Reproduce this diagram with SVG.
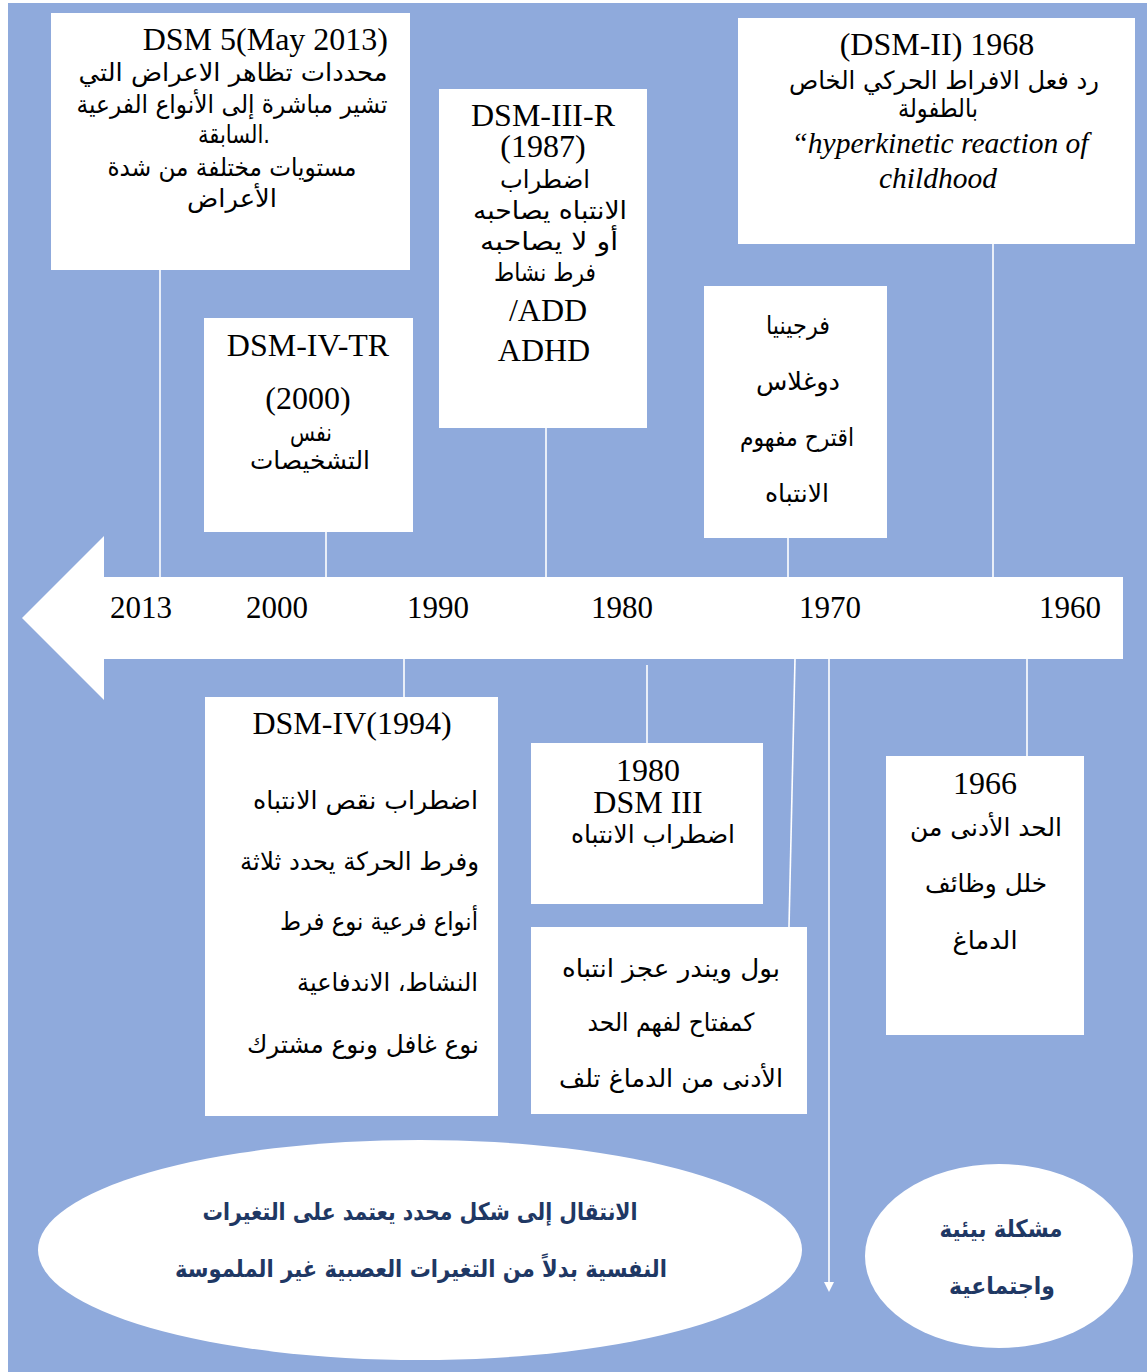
<svg xmlns="http://www.w3.org/2000/svg" width="1147" height="1372" viewBox="0 0 1147 1372">
<defs>
<style>
.bg{fill:#8FAADC}
.box{fill:#FFFFFF}
.conn{stroke:#FFFFFF;stroke-width:1.6;fill:none}
.lat{font-family:'Liberation Serif','Times New Roman',serif;font-size:32px;fill:#000}
.it{font-family:'Liberation Serif','Times New Roman',serif;font-size:29.5px;font-style:italic;fill:#000}
.ar{font-family:'DejaVu Sans','Liberation Sans',sans-serif;font-size:25px;fill:#000}
.arb{font-family:'DejaVu Sans','Liberation Sans',sans-serif;font-size:24px;font-weight:bold;fill:#1F3864}
.yr{font-family:'Liberation Serif','Times New Roman',serif;font-size:31px;fill:#000}
</style>
<marker id="ah" markerWidth="10" markerHeight="10" refX="8" refY="5" orient="auto" markerUnits="userSpaceOnUse" viewBox="0 0 10 10">
<path d="M0,0 L10,5 L0,10 z" fill="#FFFFFF"/>
</marker>
</defs>
<rect x="0" y="0" width="1147" height="1372" fill="#FFFFFF"/>
<rect class="bg" x="8" y="3" width="1139" height="1369"/>

<g id="connectors">
<line class="conn" x1="160" y1="270" x2="160" y2="577"/>
<line class="conn" x1="326" y1="532" x2="326" y2="577"/>
<line class="conn" x1="546" y1="428" x2="546" y2="577"/>
<line class="conn" x1="788" y1="538" x2="788" y2="577"/>
<line class="conn" x1="993" y1="244" x2="993" y2="577"/>
<line class="conn" x1="404" y1="659" x2="404" y2="697"/>
<line class="conn" x1="647" y1="665" x2="647" y2="743"/>
<line class="conn" x1="795" y1="659" x2="789" y2="927"/>
<line class="conn" x1="1027" y1="659" x2="1027" y2="756"/>
<line class="conn" x1="829" y1="659" x2="829" y2="1290" marker-end="url(#ah)"/>
</g>

<g id="timeline">
<path class="box" d="M22,618 L104,536 L104,577 L1123,577 L1123,659 L104,659 L104,700 Z"/>
<text class="yr" x="141" y="618" text-anchor="middle">2013</text>
<text class="yr" x="277" y="618" text-anchor="middle">2000</text>
<text class="yr" x="438" y="618" text-anchor="middle">1990</text>
<text class="yr" x="622" y="618" text-anchor="middle">1980</text>
<text class="yr" x="830" y="618" text-anchor="middle">1970</text>
<text class="yr" x="1070" y="618" text-anchor="middle">1960</text>
</g>

<g id="dsm5">
<rect class="box" x="51" y="13" width="359" height="257"/>
<text class="lat" x="388" y="50" text-anchor="end">DSM 5(May 2013)</text>
<text class="ar" x="233" y="81" text-anchor="middle" textLength="309" lengthAdjust="spacingAndGlyphs">محددات تظاهر الاعراض التي</text>
<text class="ar" x="232" y="113" text-anchor="middle" textLength="311" lengthAdjust="spacingAndGlyphs">تشير مباشرة إلى الأنواع الفرعية</text>
<text class="ar" x="234" y="143" text-anchor="middle" textLength="72" lengthAdjust="spacingAndGlyphs">السابقة.</text>
<text class="ar" x="232" y="176" text-anchor="middle" textLength="249" lengthAdjust="spacingAndGlyphs">مستويات مختلفة من شدة</text>
<text class="ar" x="232" y="207" text-anchor="middle" textLength="90" lengthAdjust="spacingAndGlyphs">الأعراض</text>
</g>

<g id="dsm3r">
<rect class="box" x="439" y="89" width="208" height="339"/>
<text class="lat" x="543" y="126" text-anchor="middle">DSM-III-R</text>
<text class="lat" x="543" y="157" text-anchor="middle">(1987)</text>
<text class="ar" x="545" y="188" text-anchor="middle" textLength="90" lengthAdjust="spacingAndGlyphs">اضطراب</text>
<text class="ar" x="550" y="219" text-anchor="middle" textLength="154" lengthAdjust="spacingAndGlyphs">الانتباه يصاحبه</text>
<text class="ar" x="549" y="250" text-anchor="middle" textLength="138" lengthAdjust="spacingAndGlyphs">أو لا يصاحبه</text>
<text class="ar" x="545" y="281" text-anchor="middle" textLength="102" lengthAdjust="spacingAndGlyphs">فرط نشاط</text>
<text class="lat" x="548" y="321" text-anchor="middle">/ADD</text>
<text class="lat" x="544" y="361" text-anchor="middle">ADHD</text>
</g>

<g id="dsm2">
<rect class="box" x="738" y="18" width="397" height="226"/>
<text class="lat" x="937" y="55" text-anchor="middle">(DSM-II) 1968</text>
<text class="ar" x="944" y="89" text-anchor="middle" textLength="310" lengthAdjust="spacingAndGlyphs">رد فعل الافراط الحركي الخاص</text>
<text class="ar" x="938" y="117" text-anchor="middle" textLength="80" lengthAdjust="spacingAndGlyphs">بالطفولة</text>
<text class="it" x="940" y="153" text-anchor="middle">“hyperkinetic reaction of</text>
<text class="it" x="938" y="188" text-anchor="middle">childhood</text>
</g>

<g id="virginia">
<rect class="box" x="704" y="286" width="183" height="252"/>
<text class="ar" x="798" y="334" text-anchor="middle" textLength="64" lengthAdjust="spacingAndGlyphs">فرجينيا</text>
<text class="ar" x="798" y="390" text-anchor="middle" textLength="84" lengthAdjust="spacingAndGlyphs">دوغلاس</text>
<text class="ar" x="797" y="446" text-anchor="middle" textLength="114" lengthAdjust="spacingAndGlyphs">اقترح مفهوم</text>
<text class="ar" x="797" y="502" text-anchor="middle" textLength="64" lengthAdjust="spacingAndGlyphs">الانتباه</text>
</g>

<g id="dsm4tr">
<rect class="box" x="204" y="318" width="209" height="214"/>
<text class="lat" x="308" y="356" text-anchor="middle">DSM-IV-TR</text>
<text class="lat" x="308" y="409" text-anchor="middle">(2000)</text>
<text class="ar" x="311" y="441" text-anchor="middle" textLength="42" lengthAdjust="spacingAndGlyphs">نفس</text>
<text class="ar" x="310" y="469" text-anchor="middle" textLength="120" lengthAdjust="spacingAndGlyphs">التشخيصات</text>
</g>

<g id="dsm4">
<rect class="box" x="205" y="697" width="293" height="419"/>
<text class="lat" x="352" y="734" text-anchor="middle">DSM-IV(1994)</text>
<text class="ar" x="478" y="809" text-anchor="end" textLength="225" lengthAdjust="spacingAndGlyphs">اضطراب نقص الانتباه</text>
<text class="ar" x="479" y="870" text-anchor="end" textLength="239" lengthAdjust="spacingAndGlyphs">وفرط الحركة يحدد ثلاثة</text>
<text class="ar" x="478" y="930" text-anchor="end" textLength="198" lengthAdjust="spacingAndGlyphs">أنواع فرعية نوع فرط</text>
<text class="ar" x="478" y="991" text-anchor="end" textLength="181" lengthAdjust="spacingAndGlyphs">النشاط، الاندفاعية</text>
<text class="ar" x="479" y="1053" text-anchor="end" textLength="232" lengthAdjust="spacingAndGlyphs">نوع غافل ونوع  مشترك</text>
</g>

<g id="dsm3">
<rect class="box" x="531" y="743" width="232" height="161"/>
<text class="lat" x="648" y="781" text-anchor="middle">1980</text>
<text class="lat" x="648" y="813" text-anchor="middle">DSM III</text>
<text class="ar" x="653" y="843" text-anchor="middle" textLength="164" lengthAdjust="spacingAndGlyphs">اضطراب الانتباه</text>
</g>

<g id="wender">
<rect class="box" x="531" y="927" width="276" height="187"/>
<text class="ar" x="671" y="977" text-anchor="middle" textLength="218" lengthAdjust="spacingAndGlyphs">بول ويندر عجز انتباه</text>
<text class="ar" x="671" y="1031" text-anchor="middle" textLength="167" lengthAdjust="spacingAndGlyphs">كمفتاح لفهم الحد</text>
<text class="ar" x="671" y="1087" text-anchor="middle" textLength="224" lengthAdjust="spacingAndGlyphs">الأدنى من الدماغ تلف</text>
</g>

<g id="y1966">
<rect class="box" x="886" y="756" width="198" height="279"/>
<text class="lat" x="985" y="794" text-anchor="middle">1966</text>
<text class="ar" x="986" y="836" text-anchor="middle" textLength="152" lengthAdjust="spacingAndGlyphs">الحد الأدنى من</text>
<text class="ar" x="986" y="892" text-anchor="middle" textLength="122" lengthAdjust="spacingAndGlyphs">خلل وظائف</text>
<text class="ar" x="985" y="949" text-anchor="middle" textLength="65" lengthAdjust="spacingAndGlyphs">الدماغ</text>
</g>

<g id="transition">
<ellipse class="box" cx="420" cy="1250" rx="382" ry="110"/>
<text class="arb" x="420" y="1220" text-anchor="middle" textLength="435" lengthAdjust="spacingAndGlyphs">الانتقال إلى شكل محدد يعتمد على التغيرات</text>
<text class="arb" x="421" y="1277" text-anchor="middle" textLength="492" lengthAdjust="spacingAndGlyphs">النفسية بدلاً من التغيرات العصبية غير الملموسة</text>
</g>

<g id="env">
<ellipse class="box" cx="999" cy="1256" rx="134" ry="92"/>
<text class="arb" x="1001" y="1237" text-anchor="middle" textLength="123" lengthAdjust="spacingAndGlyphs">مشكلة بيئية</text>
<text class="arb" x="1002" y="1294" text-anchor="middle" textLength="106" lengthAdjust="spacingAndGlyphs">واجتماعية</text>
</g>
</svg>
